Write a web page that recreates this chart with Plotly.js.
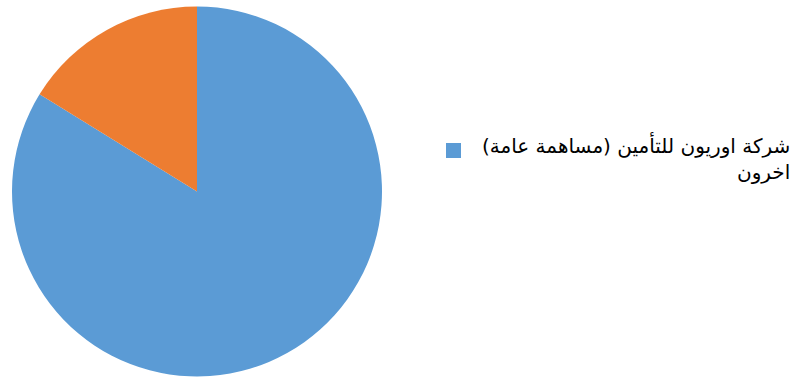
<!DOCTYPE html>
<html><head><meta charset="utf-8">
<script src="https://cdn.plot.ly/plotly-3.0.1.min.js"></script>
<style>html,body{margin:0;padding:0;background:#fff}</style>
</head><body><div id="chart" style="width:798px;height:381px"></div>
<script>
const labels = ["شركة اوريون للتأمين (مساهمة عامة)", "اخرون"];
const values = [83.8, 16.2];
const colors = ["#5B9BD5", "#ED7D31"];

const W = 798, H = 381;
const data = [{
  type: 'pie',
  labels: labels,
  values: values,
  sort: false,
  direction: 'clockwise',
  rotation: 0,
  textinfo: 'none',
  hoverinfo: 'label+percent',
  marker: {colors: colors, line: {width: 0}},
  domain: {x: [12/W, 382/W], y: [1 - 377/H, 1 - 6/H]},
  showlegend: false
}];
const layout = {
  width: W, height: H,
  margin: {l: 0, r: 0, t: 0, b: 0},
  paper_bgcolor: '#fff',
  shapes: [{type: 'rect', xref: 'paper', yref: 'paper',
    x0: 446/W, x1: 461/W, y0: 1 - 158/H, y1: 1 - 143/H,
    fillcolor: colors[0], line: {width: 0}}],
  annotations: [{
    xref: 'paper', yref: 'paper', x: 792/W, y: 1 - 130/H,
    xanchor: 'right', yanchor: 'top', align: 'right', showarrow: false,
    text: labels[0] + '<br>' + labels[1],
    font: {family: 'DejaVu Sans, Noto Sans, sans-serif', size: 20, color: '#000'}
  }]
};
Plotly.newPlot('chart', data, layout, {displayModeBar: false});
</script></body></html>
